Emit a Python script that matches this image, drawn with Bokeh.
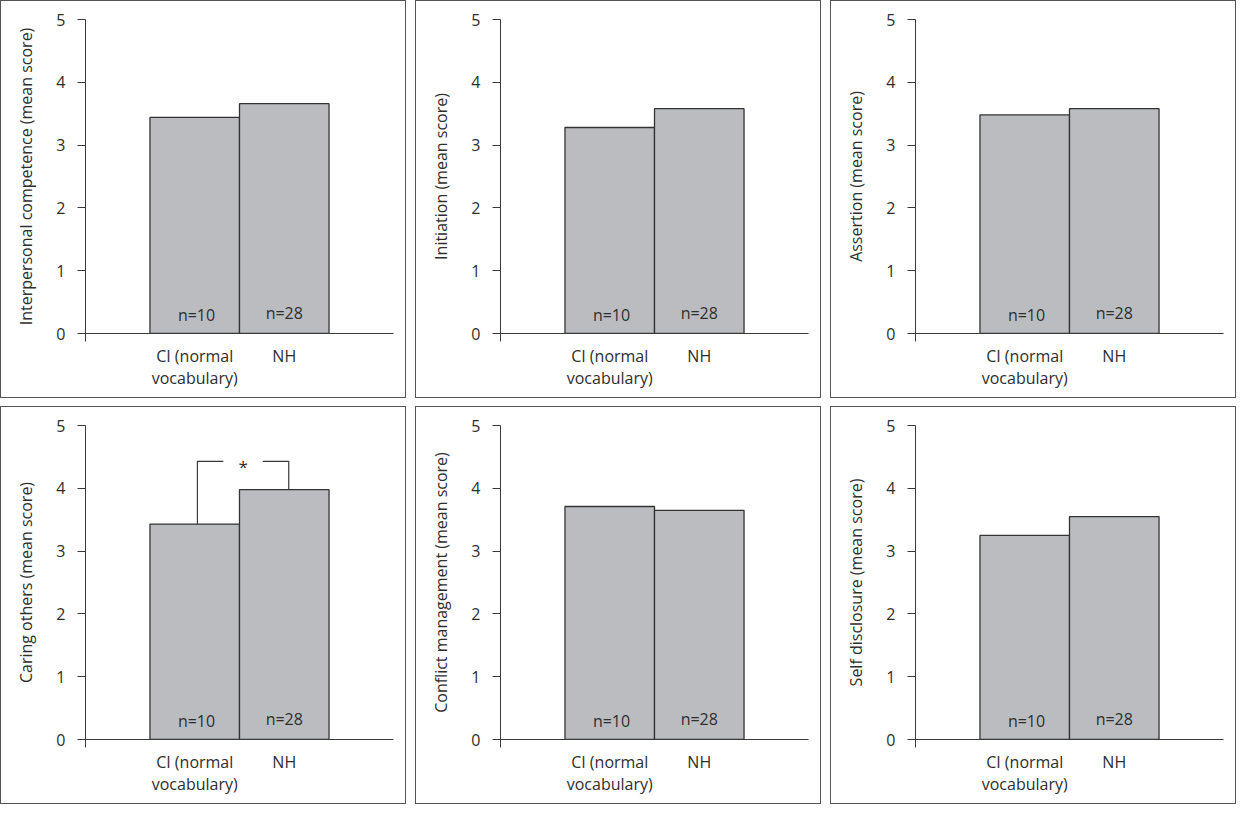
from bokeh.plotting import figure
from bokeh.layouts import column, row
from bokeh.models import Range1d, FixedTicker, ColumnDataSource
from bokeh.embed import file_html
from bokeh.resources import INLINE
from bokeh.core.properties import value

# ---- data ----
groups = ["CI (normal\nvocabulary)", "NH"]
n_labels = ["n=10", "n=28"]
domains = ["Interpersonal competence", "Initiation", "Assertion",
           "Caring others", "Conflict management", "Self disclosure"]
ci_means = [3.44, 3.28, 3.48, 3.43, 3.71, 3.25]
nh_means = [3.66, 3.58, 3.58, 3.98, 3.65, 3.55]
significant = [False, False, False, True, False, False]
sig_bracket_y = 4.43
sig_mark = "*"

# ---- style ----
FONT = "Open Sans"
TXT = "#2e2e2e"
AX = "#3a3a3a"
BAR_FILL = "#bbbcbf"
BAR_LINE = "#333333"
W, H = 406, 398
bar_x = [1, 2]


def make_panel(i):
    x0, x1 = -0.22, 3.22
    p = figure(width=W, height=H, x_range=Range1d(x0, x1), y_range=Range1d(0, 5),
               output_backend="svg", toolbar_location=None,
               min_border_left=84, min_border_right=14, min_border_top=18,
               min_border_bottom=66, outline_line_color=None,
               styles={"border": "1px solid #555555"})
    p.xgrid.visible = False
    p.ygrid.visible = False

    src = ColumnDataSource(dict(x=bar_x, top=[ci_means[i], nh_means[i]], n=n_labels,
                                ny=[0.30, 0.33], nx=[1.02, 2.0]))
    p.vbar(x="x", top="top", width=1.0, source=src, fill_color=BAR_FILL,
           line_color=BAR_LINE, line_width=1.3)
    p.text(x="nx", y="ny", text="n", source=src, text_font=value(FONT),
           text_font_size="16px", text_align="center", text_baseline="middle",
           text_color=TXT)

    if significant[i]:
        lx, rx = bar_x[0] + 0.03, bar_x[1] + 0.05
        mid = (lx + rx) / 2
        gap = 0.22
        p.multi_line(xs=[[lx, lx, mid - gap], [mid + gap, rx, rx]],
                     ys=[[ci_means[i], sig_bracket_y, sig_bracket_y],
                         [sig_bracket_y, sig_bracket_y, nh_means[i]]],
                     line_color=AX, line_width=1.2)
        p.text(x=[mid], y=[sig_bracket_y], text=[sig_mark], text_font=value(FONT),
               text_font_size="17px", text_align="center", text_baseline="middle",
               text_color=TXT, y_offset=5)

    # y axis
    ya = p.yaxis[0]
    ya.ticker = FixedTicker(ticks=[0, 1, 2, 3, 4, 5])
    ya.major_tick_out = 8
    ya.major_tick_in = 0
    ya.minor_tick_line_color = None
    ya.axis_line_color = AX
    ya.major_tick_line_color = AX
    ya.major_label_standoff = 12
    ya.major_label_text_font = FONT
    ya.major_label_text_font_size = "16px"
    ya.major_label_text_color = TXT
    ya.axis_label = domains[i] + " (mean score)"
    ya.axis_label_text_font = FONT
    ya.axis_label_text_font_size = "16px"
    ya.axis_label_text_font_style = "normal"
    ya.axis_label_text_color = TXT
    ya.axis_label_standoff = 16

    # x axis
    xa = p.xaxis[0]
    xa.ticker = FixedTicker(ticks=bar_x, minor_ticks=[x0 + 0.001])
    xa.major_label_overrides = {bar_x[0]: groups[0], bar_x[1]: groups[1]}
    xa.major_tick_line_color = None
    xa.major_tick_out = 0
    xa.major_tick_in = 0
    xa.minor_tick_out = 8
    xa.minor_tick_in = 0
    xa.minor_tick_line_color = AX
    xa.axis_line_color = AX
    xa.major_label_standoff = 3
    xa.major_label_text_font = FONT
    xa.major_label_text_font_size = "16px"
    xa.major_label_text_color = TXT
    xa.major_label_text_line_height = 1.0
    return p


panels = [make_panel(i) for i in range(6)]
layout = column(row(*panels[:3], spacing=9), row(*panels[3:], spacing=9), spacing=8)
open("out.html", "w").write(file_html(layout, INLINE))
